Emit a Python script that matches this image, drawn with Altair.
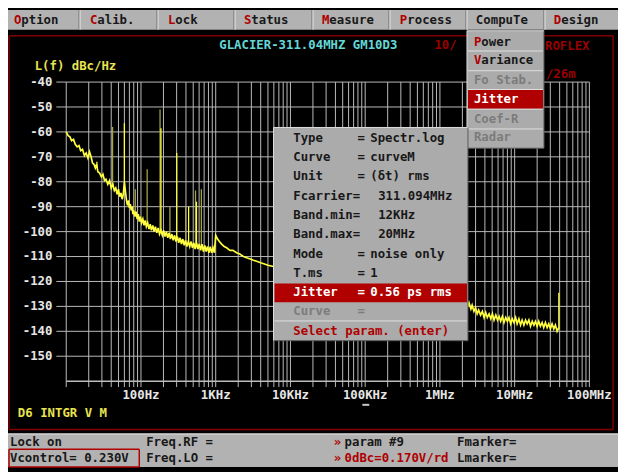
import altair as alt
import pandas as pd

# ---------------- data ----------------
trace_freq = [10, 10.6, 11.2, 11.8, 12.5, 13.2, 14, 14.8, 15.6, 16.5, 17.5, 18.5, 19.5, 20.5, 21.5,
              22.5, 23.5, 24.5, 25.5, 26.5, 28, 29.5, 31, 32.5, 34, 36, 38, 40, 42, 44, 46, 48, 50,
              52, 54, 56, 58, 60, 62,
              64, 66, 68, 70, 72, 74, 76, 78, 80, 83, 86, 89, 92, 95, 98, 102, 106, 110, 114, 118,
              123, 128, 133, 138, 144, 150, 156, 163, 170, 177, 185, 193, 201, 210, 219, 228, 238,
              248, 259, 270, 282, 294, 307, 320, 334, 348, 363, 379, 395, 412, 430, 449, 468, 488,
              509, 531, 554, 578, 603, 629, 656, 684, 714, 745, 777, 811, 846, 883, 921, 960,
              1000, 1060, 1120, 1200, 1300, 1400, 1550, 1700, 1900, 2100, 2350, 2600, 2900, 3200,
              3600, 4000, 4500, 5000, 5900, 8000, 12000, 20000, 40000, 100000, 250000, 600000,
              1200000, 2000000,
              2250000, 2350000, 2450000, 2600000, 2700000, 2850000, 3000000, 3150000, 3300000,
              3500000, 3700000, 3900000, 4100000, 4300000, 4550000, 4800000, 5050000, 5300000,
              5600000, 5900000, 6200000, 6500000, 6850000, 7200000, 7600000, 8000000, 8400000,
              8850000, 9300000, 9800000, 10300000, 10800000, 11400000, 12000000, 12600000,
              13300000, 14000000, 14700000, 15500000, 16300000, 17200000, 18100000, 19000000,
              20000000, 21000000, 22100000, 23300000, 24500000, 25800000, 27200000, 28600000,
              30100000, 31700000, 33400000, 35100000, 37000000, 39000000]
trace_db = [-60, -61.5, -62, -63.5, -63, -65, -66, -65.5, -67.5, -67, -69.5, -68.5, -70.5, -68, -70,
            -72.5, -73, -74.5, -73, -76, -76.5, -78, -77, -79.5, -79, -81, -79.5, -82.5, -81, -83.5,
            -82.5, -85, -83, -86, -84.5, -87, -85, -80, -84,
            -87.5, -89.5, -87.5, -90.5, -89, -91.5, -90, -93, -91.5, -94, -92, -95, -93, -96, -94,
            -96.5, -95, -97.5, -95.5, -98, -96.5, -99, -97, -99.5, -97.5, -100, -98, -100.5, -98.5,
            -101, -99.5, -101.5, -99.5, -102, -100, -102.5, -100.5, -103, -101, -103.5, -101.5,
            -104, -102, -104.5, -102.5, -105, -103, -105.5, -103.5, -106, -104, -106, -104, -106.5,
            -104.5, -107, -104.5, -107, -105, -107.5, -105, -108, -105.5, -108, -106, -108.5, -106,
            -108.5, -106.5, -108.5,
            -101.5, -103, -104, -105, -106, -106.5, -107.5, -107.5, -108.5, -109, -110, -110.5,
            -111, -111.5, -112, -112.5, -113, -113.5, -114, -115.5, -117, -118.5, -120, -122,
            -124, -125.5, -126.5, -127.5,
            -128, -130, -128.5, -131, -129.5, -132, -130.5, -133, -131.5, -133.5, -132, -134.5,
            -132.5, -134.5, -133, -135, -133, -135.5, -133.5, -135.5, -134, -136, -134, -136.5,
            -134.5, -136, -134.5, -137, -135, -136.5, -134.5, -137, -135, -137.5, -135.5, -137.5,
            -135.5, -137, -135.5, -138, -136, -137.5, -136, -138, -136, -138, -136.5, -138.5,
            -136.5, -138.5, -137, -139, -137, -139, -137.5, -140, -138.5]

spur_freq = [25.7, 41.7, 60, 84, 121, 180, 185, 244, 301, 396, 434, 537, 553, 643, 39000000]
spur_peak = [-72, -58, -56.5, -83, -75, -51, -58.5, -90, -68.5, -90, -90, -83.5, -88, -83, -124.5]
spur_base = [-74, -82, -80, -92.5, -97.5, -100, -100, -102, -103, -104.5, -104.5, -105.5, -105.5, -106, -139]
spur_level = ["bright", "dim", "bright", "dim", "dim", "dim", "bright", "dim", "bright", "dim",
              "bright", "dim", "bright", "dim", "bright"]

y_ticks = [-40, -50, -60, -70, -80, -90, -100, -110, -120, -130, -140, -150]
x_tick_freq = [100, 1e3, 1e4, 1e5, 1e6, 1e7, 1e8]
x_tick_label = ["100Hz", "1KHz", "10KHz", "100KHz", "1MHz", "10MHz", "100MHz"]

menu_items = ["Option", "Calib.", "Lock", "Status", "Measure", "Process", "CompuTe", "Design"]
menu_hot = [True, True, True, True, True, True, False, True]

drop_items = ["Power", "Variance", "Fo Stab.", "Jitter", "Coef-R", "Radar"]
drop_hot = [True, True, False, False, False, False]

dlg_labels = ["Type", "Curve", "Unit", "Fcarrier=", "Band.min=", "Band.max=", "Mode", "T.ms", "Jitter", "Curve"]
dlg_eq = ["=", "=", "=", "", "", "", "=", "=", "=", "="]
dlg_values = ["Spectr.log", "curveM", "(δt) rms", "311.094MHz", "12KHz", "20MHz", "noise only", "1", "0.56 ps rms", ""]

# ---------------- layout ----------------
OFF = 8
FONT = "DejaVu Sans Mono"
FS = 12.5
CW = 0.602 * FS  # monospace character advance
DARK = "#181818"
RED = "#b00000"
DRED = "#9a0000"
GRAY_TXT = "#7c7c7c"
PANEL = "#ababab"
YEL = "#e8e450"
GRID = "#bcbcbc"

xs = alt.Scale(type="log", domain=[10, 1e8], range=[67 - OFF, 597 - OFF])
ys = alt.Scale(domain=[-160, -40], range=[383 - OFF, 80 - OFF], nice=False, zero=False)


def X(field):
    return alt.X(field, scale=xs, axis=None)


def Y(field):
    return alt.Y(field, scale=ys, axis=None)


def PX(field):
    return alt.X(field, scale=None, axis=None)


def PY(field):
    return alt.Y(field, scale=None, axis=None)


def ui_text(rows, align="left", size=FS):
    df = pd.DataFrame(rows, columns=["x", "y", "t", "c"])
    df["x"] = df["x"] - OFF
    df["y"] = df["y"] - OFF
    return alt.Chart(df).mark_text(align=align, baseline="middle", font=FONT, fontSize=size,
                                   fontWeight="bold").encode(
        x=PX("x:Q"), y=PY("y:Q"), text="t:N", color=alt.Color("c:N", scale=None, legend=None))


def ui_rect(rows):
    df = pd.DataFrame(rows, columns=["x1", "y1", "x2", "y2", "c"])
    for k in ["x1", "x2", "y1", "y2"]:
        df[k] = df[k] - OFF
    return alt.Chart(df).mark_rect().encode(
        x=PX("x1:Q"), x2="x2:Q", y=PY("y1:Q"), y2="y2:Q",
        color=alt.Color("c:N", scale=None, legend=None))


def ui_rule(rows, w=1):
    df = pd.DataFrame(rows, columns=["x1", "y1", "x2", "y2", "c"])
    for k in ["x1", "x2", "y1", "y2"]:
        df[k] = df[k] - OFF
    return alt.Chart(df).mark_rule(strokeWidth=w).encode(
        x=PX("x1:Q"), x2="x2:Q", y=PY("y1:Q"), y2="y2:Q",
        color=alt.Color("c:N", scale=None, legend=None))


def hot_rows(x, y, word, hot, color):
    """Word with a red hot-key first letter: two pieces, no overlap."""
    if hot:
        return [(x, y, word[0], RED), (x + CW, y, word[1:], color)]
    return [(x, y, word, color)]


layers = []

# background panels
menu_sep = [80, 159, 237, 316, 394, 472, 551]
layers.append(ui_rect([(0, 7, 640, 27, "#b2b2b2"), (0, 436, 640, 470, "#b2b2b2")]))
layers.append(ui_rule([(x, 7, x, 27, "#6a6a6a") for x in menu_sep] +
                      [(x + 1, 7, x + 1, 27, "#e6e6e6") for x in menu_sep] +
                      [(0, 436.5, 640, 436.5, "#e6e6e6")]))
# red frame
layers.append(ui_rule([(9, 33, 621, 33, "#800000"), (9, 432, 621, 432, "#800000"),
                       (9, 33, 9, 432, "#800000"), (621, 33, 621, 432, "#800000")], w=1.5))

# ---------------- plot grid ----------------
grid_f = [n * 10 ** k for k in range(1, 8) for n in range(1, 10)] + [1e8]
gv = pd.DataFrame({"f": grid_f, "a": -160, "b": -40})
layers.append(alt.Chart(gv).mark_rule(color=GRID, strokeWidth=1).encode(
    x=X("f:Q"), y=Y("a:Q"), y2="b:Q"))
gh = pd.DataFrame({"db": y_ticks, "f1": 10, "f2": 1e8})
layers.append(alt.Chart(gh).mark_rule(color=GRID, strokeWidth=1).encode(
    x=X("f1:Q"), x2="f2:Q", y=Y("db:Q")))
layers.append(alt.Chart(gh).mark_rule(color=GRID, strokeWidth=1).encode(
    x=alt.value(57 - OFF), x2=alt.value(67 - OFF), y=Y("db:Q")))
ax = pd.DataFrame({"db": [-160], "f1": [10], "f2": [1e8]})
layers.append(alt.Chart(ax).mark_rule(color=GRID, strokeWidth=1.5).encode(
    x=X("f1:Q"), x2="f2:Q", y=Y("db:Q")))
bt = pd.DataFrame({"f": grid_f})
layers.append(alt.Chart(bt).mark_rule(color=GRID, strokeWidth=1).encode(
    x=X("f:Q"), y=alt.value(383 - OFF), y2=alt.value(389 - OFF)))

# tick labels
yl = pd.DataFrame({"db": y_ticks, "t": [str(v) for v in y_ticks]})
layers.append(alt.Chart(yl).mark_text(align="right", baseline="middle", font=FONT, fontSize=FS,
                                      fontWeight="bold", color="#e6e6e6").encode(
    x=alt.value(53 - OFF), y=Y("db:Q"), text="t:N"))
xl = pd.DataFrame({"f": x_tick_freq, "t": x_tick_label})
layers.append(alt.Chart(xl).mark_text(align="center", baseline="middle", font=FONT, fontSize=FS,
                                      fontWeight="bold", color="#e6e6e6").encode(
    x=X("f:Q"), y=alt.value(397 - OFF), text="t:N"))
layers.append(ui_rule([(367, 407, 374, 407, "#c8c8c8")], w=2))

# ---------------- trace + spurs ----------------
tr = pd.DataFrame({"f": trace_freq, "db": trace_db})
sp = pd.DataFrame({"f": spur_freq, "peak": spur_peak, "base": spur_base, "lvl": spur_level})
layers.append(alt.Chart(sp).mark_rule(strokeWidth=1.3).encode(
    x=X("f:Q"), y=Y("peak:Q"), y2="base:Q",
    color=alt.Color("lvl:N", scale=alt.Scale(domain=["bright", "dim"], range=["#ffff40", "#a4a440"]),
                    legend=None)))
layers.append(alt.Chart(tr).mark_line(color="#ffff40", strokeWidth=1.7).encode(
    x=X("f:Q"), y=Y("db:Q")))

# ---------------- texts on black ----------------
layers.append(ui_text([
    (222, 43, "GLACIER-311.04MHZ GM10D3", "#64d8d8"),
    (440, 43, "10/", DRED),
    (552, 44, "ROFLEX", DRED),
    (553, 72, "/26m", DRED),
    (35, 64, "L(f) dBc/Hz", YEL),
    (18, 415, "D6 INTGR V M", YEL),
]))

# ---------------- menu bar text ----------------
menu_x = [14, 91, 170, 247, 326, 405, 482, 561]
mrows = []
for x, t, h in zip(menu_x, menu_items, menu_hot):
    mrows += hot_rows(x, 17, t, h, DARK)
layers.append(ui_text(mrows))

# ---------------- status bar ----------------
layers.append(ui_rule([(9, 452, 141, 452, RED), (9, 470, 141, 470, RED),
                       (9, 452, 9, 470, RED), (141, 452, 141, 470, RED)], w=1.5))
layers.append(ui_text([
    (10, 445, "Lock on", DARK), (10, 461, "Vcontrol= 0.230V", DARK),
    (148, 445, "Freq.RF =", DARK), (148, 461, "Freq.LO =", DARK),
    (338, 445, "»", RED), (349, 445, "param #9", DARK),
    (338, 461, "»", RED), (349, 461, "0dBc=0.170V/rd", RED),
    (463, 445, "Fmarker=", DARK), (463, 461, "Lmarker=", DARK),
]))

# ---------------- dropdown (CompuTe) ----------------
drop_y = [39, 58, 78, 97, 117, 136]
drop_c = [DARK, DARK, GRAY_TXT, "#ffffff", GRAY_TXT, GRAY_TXT]
layers.append(ui_rect([(473, 28, 551, 147, PANEL), (474, 88, 550, 107, RED)]))
layers.append(ui_rule([(474, y, 550, y, "#dedede") for y in [48.5, 68.5, 87.5, 107.5, 127.5]] +
                      [(473, 28, 473, 147, "#dedede"), (551, 28, 551, 147, "#5a5a5a"),
                       (473, 147, 551, 147, "#5a5a5a"), (473, 28, 551, 28, "#dedede")]))
drows = []
for y, t, c, h in zip(drop_y, drop_items, drop_c, drop_hot):
    drows += hot_rows(480, y, t, h, c)
layers.append(ui_text(drows))

# ---------------- dialog ----------------
dlg_y = [137, 156, 175, 195, 215, 234, 254, 273, 293, 312]
dlg_c = [DARK] * 8 + ["#ffffff", GRAY_TXT]
layers.append(ui_rect([(277, 126, 474, 342, PANEL), (278, 284, 473, 303, RED)]))
layers.append(ui_rule([(278, 322, 473, 322, "#e2e2e2"),
                       (277, 126, 474, 126, "#dedede"), (277, 126, 277, 342, "#dedede"),
                       (474, 126, 474, 342, "#5a5a5a"), (277, 342, 474, 342, "#5a5a5a")]))
rows = []
for lab, eq, val, y, c in zip(dlg_labels, dlg_eq, dlg_values, dlg_y, dlg_c):
    rows.append((297, y, lab, c))
    if eq:
        rows.append((362, y, eq, c))
        if val:
            rows.append((375, y, val, c))
    elif val:
        rows.append((383, y, val, c))
rows.append((297, 332, "Select param. (enter)", RED))
layers.append(ui_text(rows))

chart = alt.layer(*layers).resolve_scale(x="independent", y="independent", color="independent").properties(
    width=626 - OFF, height=472 - OFF, background="black", padding=0, autosize="none"
).configure_view(stroke=None)

chart.save("out.html", embed_options={"renderer": "svg", "actions": False})
